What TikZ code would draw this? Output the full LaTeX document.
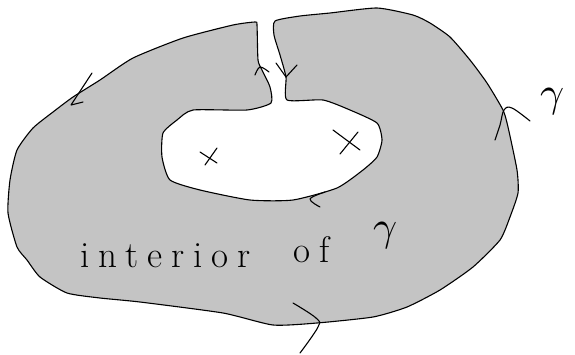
\documentclass[tikz,border=0pt]{standalone}
\usepackage{fontspec}
\newfontfamily\hand[LetterSpace=24]{Latin Modern Roman}
\newfontfamily\greekhand{Latin Modern Math}
\definecolor{regiongray}{RGB}{196,196,196}
\tikzset{
  pen/.style={line width=1.1pt, line cap=round, line join=round, black},
  region/.style={pen, fill=regiongray},
  handtext/.style={font=\hand\fontsize{37}{40}\selectfont, inner sep=0pt, anchor=base west},
  greektext/.style={font=\greekhand\fontsize{42}{44}\selectfont, inner sep=0pt, anchor=base west},
}
\begin{document}
\begin{tikzpicture}[x=1pt,y=-1pt]
\useasboundingbox (0,0) rectangle (575,354);
% keyhole region
\draw[region] plot[smooth cycle, tension=0.35] coordinates {
(255,22)(233,25)(183,38)(133,58)(100,80)(73,97)(53,112)(33,128)(17,150)(10,180)(8,213)(17,247)(27,260)(40,277)(67,293)(100,298)(140,302)(223,313)(273,325)(317,323)(373,317)(407,307)(440,290)(473,267)(500,240)(510,217)(518,193)(517,170)(508,127)(503,110)(487,83)(470,60)(450,37)(430,23)(413,15)(377,8)(330,13)(300,16)(275,21)(274,35)(280,55)(286,77)(287,100)
(323,100)(350,110)(377,123)(382,140)(377,157)(363,170)(337,188)(293,200)(250,200)(200,190)(170,180)(162,157)(163,133)(177,120)(193,110)(247,110)(271,103)
(270,87)(262,70)(258,60)(257,25)};
% orientation arrows
\draw[pen] (92,73) -- (71,105) -- (83,102);
\draw[pen] plot[smooth, tension=0.6] coordinates {(255,75)(260,67)(269,72)};
\draw[pen] (276,63) -- (286,77) -- (297,65);
\draw[pen] plot[smooth, tension=0.6] coordinates {(495,140)(500,125)(504,110)(512,108)(530,121)};
\draw[pen] plot[smooth, tension=0.6] coordinates {(325,192)(310,199)(320,207)};
\draw[pen] plot[smooth, tension=0.6] coordinates {(293,303)(316,318)(318,327)(300,353)};
% marked points
\draw[pen] (200,152) -- (217,163);
\draw[pen] (205,165) -- (217,148);
\draw[pen] (333,130) -- (360,150);
\draw[pen] (340,154) -- (358,132);
% labels
\node[handtext] (interior) at (80,267) {interior};
\node[handtext] (of) at (293,262) {of};
\node[greektext] (gin) at (373,240) {𝛾};
\node[greektext] (gout) at (540,106) {𝛾};
\end{tikzpicture}
\end{document}
